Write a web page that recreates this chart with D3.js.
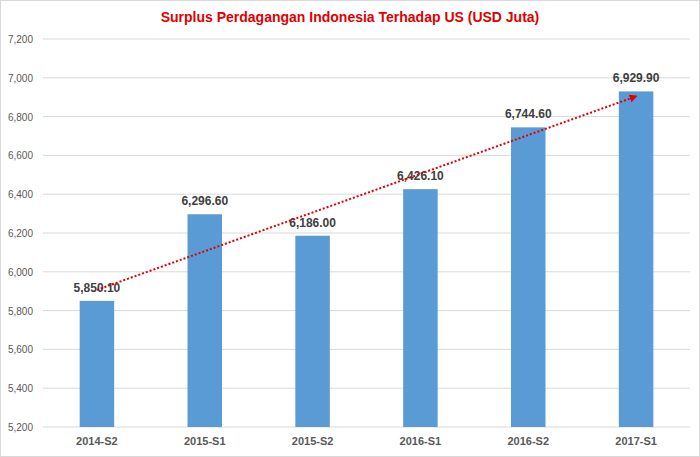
<!DOCTYPE html>
<html lang="en">
<head>
<meta charset="UTF-8">
<style>
  body { margin: 0; background: #fff; }
  text { font-family: Arial, "Liberation Sans", sans-serif; }
</style>
<script src="https://cdn.jsdelivr.net/npm/d3@7"></script>
</head>
<body>
<script>
  // Data
  const periods = ["2014-S2", "2015-S1", "2015-S2", "2016-S1", "2016-S2", "2017-S1"];
  const surplus = [5850.1, 6296.6, 6186.0, 6426.1, 6744.6, 6929.9];
  const yTicks = [5200, 5400, 5600, 5800, 6000, 6200, 6400, 6600, 6800, 7000, 7200];

  const width = 700, height = 457;
  const margin = {top: 39, right: 10, bottom: 30, left: 43};

  const svg = d3.select("body").append("svg").attr("width", width).attr("height", height);

  svg.append("rect").attr("x", 0.5).attr("y", 0.5).attr("width", width - 1).attr("height", height - 1)
    .attr("fill", "#fff").attr("stroke", "#d9d9d9");

  const x = d3.scaleBand().domain(periods).range([margin.left, width - margin.right]).paddingInner(0.68).paddingOuter(0.34);
  const y = d3.scaleLinear().domain([5200, 7200]).range([height - margin.bottom, margin.top]);

  // Gridlines
  svg.append("g").selectAll("line").data(yTicks).join("line")
    .attr("x1", margin.left).attr("x2", width - margin.right)
    .attr("y1", d => y(d)).attr("y2", d => y(d))
    .attr("stroke", "#d9d9d9");

  // Y labels
  svg.append("g").selectAll("text").data(yTicks).join("text")
    .attr("x", 33).attr("y", d => y(d) + 4).attr("text-anchor", "end")
    .attr("font-size", 10).attr("fill", "#595959")
    .text(d => d3.format(",")(d));

  // Bars
  svg.append("g").selectAll("rect").data(surplus).join("rect")
    .attr("x", (d, i) => x(periods[i])).attr("width", x.bandwidth())
    .attr("y", d => y(d)).attr("height", d => y(5200) - y(d))
    .attr("fill", "#5b9bd5");

  // Value labels
  svg.append("g").selectAll("text").data(surplus).join("text")
    .attr("x", (d, i) => x(periods[i]) + x.bandwidth() / 2).attr("y", d => y(d) - 9)
    .attr("text-anchor", "middle").attr("font-size", 12).attr("font-weight", "bold").attr("fill", "#404040")
    .text(d => d3.format(",.2f")(d));

  // X labels
  svg.append("g").selectAll("text").data(periods).join("text")
    .attr("x", d => x(d) + x.bandwidth() / 2).attr("y", height - 12)
    .attr("text-anchor", "middle").attr("font-size", 11).attr("font-weight", "bold").attr("fill", "#595959")
    .text(d => d);

  // Linear trendline
  const n = surplus.length;
  const mx = d3.mean(d3.range(n)), my = d3.mean(surplus);
  const slope = d3.sum(surplus, (v, i) => (i - mx) * (v - my)) / d3.sum(d3.range(n), i => (i - mx) ** 2);
  const at = i => my + slope * (i - mx);

  svg.append("defs").append("marker").attr("id", "arrow")
    .attr("viewBox", "0 0 10 10").attr("refX", 8).attr("refY", 5)
    .attr("markerWidth", 4).attr("markerHeight", 4).attr("orient", "auto")
    .append("path").attr("d", "M0,0L10,5L0,10z").attr("fill", "#e00000");

  const cx = i => x(periods[i]) + x.bandwidth() / 2;
  svg.append("line")
    .attr("x1", cx(0)).attr("y1", y(at(0)))
    .attr("x2", cx(n - 1)).attr("y2", y(at(n - 1)))
    .attr("stroke", "#e00000").attr("stroke-width", 2).attr("stroke-dasharray", "2,2")
    .attr("marker-end", "url(#arrow)");

  // Title
  svg.append("text").attr("x", width / 2).attr("y", 22).attr("text-anchor", "middle")
    .attr("font-size", 14).attr("font-weight", "bold").attr("fill", "#e00000")
    .text("Surplus Perdagangan Indonesia Terhadap US (USD Juta)");
</script>
</body>
</html>
